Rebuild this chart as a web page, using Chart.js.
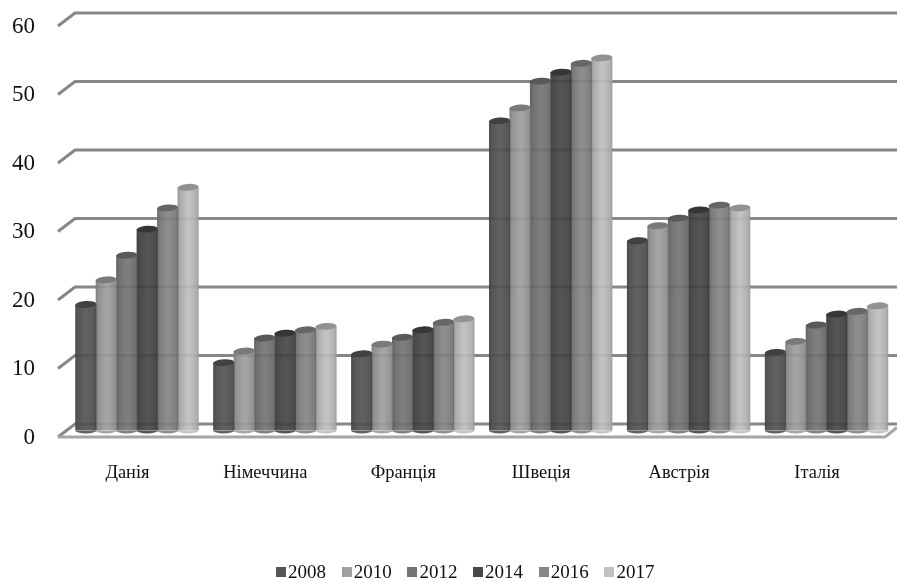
<!DOCTYPE html>
<html lang="uk">
<head>
<meta charset="utf-8">
<title>Діаграма</title>
<script src="https://cdn.jsdelivr.net/npm/chart.js@4/dist/chart.umd.min.js"></script>
<style>
    html, body { margin: 0; padding: 0; background: #fff; }
    #wrap { position: relative; width: 897px; height: 583px; overflow: hidden; }
    #grafico { position: absolute; left: 0; top: 0; }
    #legenda { position: absolute; left: 276px; top: 560px; display: flex; font: 19px "Liberation Serif", serif; color: #111; line-height: 24px; }
    #legenda span.item { display: flex; align-items: center; width: 65.7px; }
    #legenda i { display: block; width: 10px; height: 10px; margin-right: 2px; }
</style>
</head>
<body>
<div id="wrap">
    <canvas id="grafico" width="897" height="583"></canvas>
    <div id="legenda"></div>
</div>
<script>
const categories = ['Данія', 'Німеччина', 'Франція', 'Швеція', 'Австрія', 'Італія'];
const years = ['2008', '2010', '2012', '2014', '2016', '2017'];
const values2008 = [18.4, 9.9, 11.2, 45.2, 27.7, 11.4];
const values2010 = [22.0, 11.6, 12.6, 47.1, 29.9, 13.0];
const values2012 = [25.6, 13.5, 13.6, 51.0, 31.0, 15.4];
const values2014 = [29.4, 14.2, 14.7, 52.3, 32.2, 17.0];
const values2016 = [32.5, 14.7, 15.8, 53.6, 32.9, 17.4];
const values2017 = [35.5, 15.2, 16.3, 54.4, 32.5, 18.2];
const yTicks = [0, 10, 20, 30, 40, 50, 60];
const seriesValues = [values2008, values2010, values2012, values2014, values2016, values2017];
const seriesColors = [[85, 85, 85], [160, 160, 160], [117, 117, 117], [71, 71, 71], [134, 134, 134], [192, 192, 192]];

// half of the depth of the floor, in px, and the label shift in axis units
const depth = 6.5;
const frontShift = 1.05;

// back wall lines with their diagonal, and the floor
const gridPlugin = {
    id: 'gridWalls',
    beforeDatasetsDraw(chart) {
        const ctx = chart.ctx;
        const y = chart.scales.y;
        ctx.save();
        ctx.lineWidth = 3;
        ctx.strokeStyle = '#878787';
        yTicks.forEach(v => {
            const p = y.getPixelForValue(v);
            ctx.beginPath();
            ctx.moveTo(58, p + depth);
            ctx.lineTo(75, p - depth);
            ctx.lineTo(897, p - depth);
            ctx.stroke();
        });
        const p0 = y.getPixelForValue(0);
        ctx.strokeStyle = '#a6a6a6';
        ctx.beginPath();
        ctx.moveTo(58, p0 + depth);
        ctx.lineTo(885, p0 + depth);
        ctx.lineTo(897, p0 - 3);
        ctx.stroke();
        ctx.restore();
    }
};

// turns the flat bars into cylinders
const cylinderPlugin = {
    id: 'cylinders',
    afterDatasetDraw(chart, args) {
        const ctx = chart.ctx;
        const rgb = seriesColors[args.index];
        const meta = chart.getDatasetMeta(args.index);
        meta.data.forEach(bar => {
            const left = bar.x - bar.width / 2;
            const right = bar.x + bar.width / 2;
            const rx = bar.width / 2;
            ctx.save();

            // bottom curve, same tone as the translucent bar above it
            ctx.fillStyle = `rgb(${rgb.map(c => Math.round(c * 0.92 + 20))})`;
            ctx.beginPath();
            ctx.ellipse(bar.x, bar.base, rx, 3, 0, 0, Math.PI);
            ctx.fill();

            ctx.beginPath();
            ctx.rect(left, bar.y, bar.width, bar.base - bar.y);
            ctx.clip();
            const shade = ctx.createLinearGradient(left, 0, right, 0);
            shade.addColorStop(0, 'rgba(0,0,0,0.24)');
            shade.addColorStop(0.14, 'rgba(0,0,0,0.12)');
            shade.addColorStop(0.45, 'rgba(0,0,0,0.02)');
            shade.addColorStop(0.6, 'rgba(0,0,0,0.02)');
            shade.addColorStop(0.88, 'rgba(0,0,0,0.10)');
            shade.addColorStop(1, 'rgba(0,0,0,0.20)');
            ctx.fillStyle = shade;
            ctx.fillRect(left - 1, bar.y - 1, bar.width + 2, bar.base - bar.y + 6);
            ctx.restore();

            // cap, leaning a little to the right
            ctx.save();
            ctx.fillStyle = `rgb(${rgb.map(c => Math.round(c * 0.76))})`;
            ctx.beginPath();
            ctx.ellipse(bar.x, bar.y, rx, 3.4, -0.07, 0, Math.PI * 2);
            ctx.fill();
            ctx.restore();
        });
    }
};

// legend as html, its boxes sit closer to the text than the built-in one allows
const htmlLegendPlugin = {
    id: 'htmlLegend',
    afterUpdate(chart) {
        const box = document.getElementById('legenda');
        box.innerHTML = '';
        chart.data.datasets.forEach((ds, i) => {
            const item = document.createElement('span');
            item.className = 'item';
            const mark = document.createElement('i');
            mark.style.background = `rgb(${seriesColors[i]})`;
            item.appendChild(mark);
            item.appendChild(document.createTextNode(ds.label));
            box.appendChild(item);
        });
    }
};

const ctx = document.getElementById('grafico');
new Chart(ctx, {
    type: 'bar',
    data: {
        labels: categories,
        datasets: years.map((year, i) => ({
            label: year,
            data: seriesValues[i],
            backgroundColor: `rgba(${seriesColors[i]},0.92)`,
            categoryPercentage: 0.89,
            barPercentage: 1.03,
            yAxisID: 'y'
        }))
    },
    options: {
        responsive: false,
        animation: false,
        layout: { autoPadding: false, padding: { top: 19.5, right: 1.5 } },
        plugins: {
            legend: { display: false },
            tooltip: { enabled: false }
        },
        scales: {
            x: {
                grid: { display: false },
                border: { display: false },
                ticks: {
                    padding: 24,
                    labelOffset: -9.5,
                    color: '#111',
                    maxRotation: 0,
                    font: { family: '"Liberation Serif", serif', size: 18.4 }
                },
                afterFit(scale) { scale.height = 152.5; }
            },
            y: {
                display: false,
                min: 0,
                max: 60
            },
            // labels belong to the front edge of the floor
            yFront: {
                position: 'left',
                min: frontShift,
                max: 60 + frontShift,
                grid: { display: false },
                border: { display: false },
                afterBuildTicks(scale) {
                    scale.ticks = yTicks.map(v => ({ value: v }));
                },
                ticks: {
                    padding: 25,
                    color: '#111',
                    font: { family: '"Liberation Serif", serif', size: 23 }
                },
                // the top label overhangs the plot, that must not shrink it
                afterFit(scale) {
                    scale.width = 68;
                    scale.paddingTop = 0;
                    scale.paddingBottom = 0;
                }
            }
        }
    },
    plugins: [gridPlugin, cylinderPlugin, htmlLegendPlugin]
});
</script>
</body>
</html>
